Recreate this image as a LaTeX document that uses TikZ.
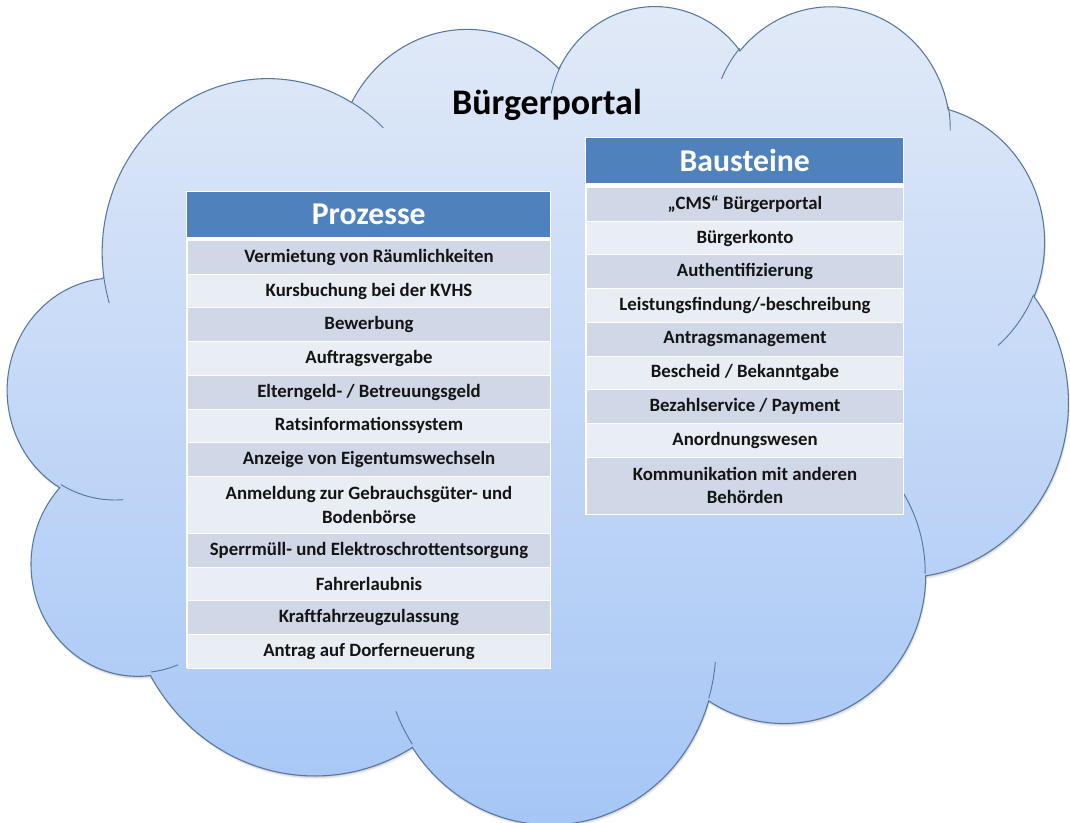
\documentclass[tikz,border=0pt]{standalone}
\usepackage{fontspec}
\setmainfont{Carlito}
\definecolor{cloudtop}{HTML}{E2EAF7}
\definecolor{cloudbot}{HTML}{A4C5F6}
\definecolor{cloudline}{HTML}{56789F}
\definecolor{hdrblue}{HTML}{4F81BD}
\definecolor{rowdark}{HTML}{D0D8E8}
\definecolor{rowlight}{HTML}{E9EDF4}
\definecolor{textdark}{HTML}{141414}
\newcommand\cellfont{\fontsize{14.1pt}{17.6pt}\selectfont\bfseries}
\newcommand\headerfont{\fontsize{23.8pt}{28pt}\selectfont\bfseries}
\newcommand\portalfont{\fontsize{27pt}{32pt}\selectfont\bfseries}
% cloud outline: eleven elliptical lobes, in units of 1/100 of the shape box
\newcommand\cloudoutline{(39.00,143.70)
    arc[start angle=-187.747, end angle=-59.636, x radius=67.53, y radius=91.90]
    arc[start angle=-152.047, end angle=-45.468, x radius=53.33, y radius=72.67]
    arc[start angle=-153.494, end angle=-37.326, x radius=43.65, y radius=59.45]
    arc[start angle=-139.711, end angle=-10.211, x radius=48.57, y radius=65.95]
    arc[start angle=-74.768, end angle=23.207, x radius=53.33, y radius=72.73]
    arc[start angle=-37.520, end angle=81.862, x radius=67.75, y radius=92.20]
    arc[start angle=0.4596, end angle=121.971, x radius=57.85, y radius=78.67]
    arc[start angle=16.845, end angle=146.215, x radius=67.52, y radius=92.15]
    arc[start angle=58.985, end angle=150.193, x radius=77.20, y radius=105.43]
    arc[start angle=-276.694, end angle=-136.905, x radius=43.60, y radius=59.18]
    arc[start angle=-239.652, end angle=-95.887, x radius=43.45, y radius=59.45]
    -- cycle}
\begin{document}
\begin{tikzpicture}[x=0.75pt, y=-0.75pt,
  tcell/.style={anchor=north west, inner sep=0pt, draw=white, line width=0.75pt,
                align=center, text=textdark, font=\cellfont},
  oddrow/.style={tcell, fill=rowdark, minimum height=25.275pt},
  evenrow/.style={tcell, fill=rowlight, minimum height=25.275pt},
  oddtall/.style={tcell, fill=rowdark, minimum height=42.75pt},
  eventall/.style={tcell, fill=rowlight, minimum height=42.75pt},
  hdr/.style={anchor=north west, inner sep=0pt, fill=hdrblue, text=white,
              font=\headerfont, minimum height=33.75pt},
  pcol/.style={minimum width=272.25pt},
  bcol/.style={minimum width=237.75pt},
  inner arc/.style={draw=cloudline, line width=0.7pt}]
\useasboundingbox (0,0) rectangle (1070,823);

% soft shadow below the cloud
\foreach \d/\o in {3/0.05, 2/0.07, 1/0.09}{
  \begin{scope}[xshift=6pt+0.3*\d pt, yshift=-3pt-0.8*\d pt, x=1.840278pt, y=-1.420139pt]
    \fill[black, opacity=\o] \cloudoutline;
  \end{scope}
}

% the cloud itself
\begin{scope}[xshift=6pt, yshift=-3pt, x=1.840278pt, y=-1.420139pt]
  \path[top color=cloudtop, bottom color=cloudbot, draw=cloudline, line width=0.8pt]
    \cloudoutline;
  % short inner strokes where the lobes overlap
  \path[inner arc] (46.93,261.77) arc[start angle=85.547, end angle=120.348, x radius=43.45, y radius=59.45];
  \path[inner arc] (69.28,348.99) arc[start angle=68.236, end angle=83.306, x radius=43.60, y radius=59.18];
  \path[inner arc] (164.78,390.90) arc[start angle=146.215, end angle=158.473, x radius=67.52, y radius=92.15];
  \path[inner arc] (288.27,347.51) arc[start angle=4.738, end angle=16.845, x radius=67.52, y radius=92.15];
  \path[inner arc] (341.29,229.54) arc[start angle=-64.028, end angle=0.4596, x radius=57.85, y radius=78.67];
  \path[inner arc] (417.98,153.54) arc[start angle=23.207, end angle=49.643, x radius=53.33, y radius=72.73];
  \path[inner arc] (383.24,54.26) arc[start angle=-10.211, end angle=0.8208, x radius=48.57, y radius=65.95];
  \path[inner arc] (290.78,39.52) arc[start angle=-156.280, end angle=-139.711, x radius=48.57, y radius=65.95];
  \path[inner arc] (221.41,47.20) arc[start angle=-167.726, end angle=-153.494, x radius=43.65, y radius=59.45];
  \path[inner arc] (140.00,51.92) arc[start angle=-59.636, end angle=-45.748, x radius=67.53, y radius=91.90];
  \path[inner arc] (41.27,157.89) arc[start angle=163.193, end angle=172.253, x radius=67.53, y radius=91.90];
\end{scope}

% title
\node[anchor=base, font=\portalfont, text=black, inner sep=0pt] (title) at (547,115) {Bürgerportal};

% table: Prozesse
\fill[white] (186,191) rectangle (551,668);
\node[hdr, pcol] (pHead) at (187,192) {Prozesse};
\node[oddrow, pcol]  (p1)  at (187,240.0) {Vermietung von Räumlichkeiten};
\node[evenrow, pcol] (p2)  at (187,273.7) {Kursbuchung bei der KVHS};
\node[oddrow, pcol]  (p3)  at (187,307.4) {Bewerbung};
\node[evenrow, pcol] (p4)  at (187,341.1) {Auftragsvergabe};
\node[oddrow, pcol]  (p5)  at (187,374.8) {Elterngeld- / Betreuungsgeld};
\node[evenrow, pcol] (p6)  at (187,408.5) {Ratsinformationssystem};
\node[oddrow, pcol]  (p7)  at (187,442.2) {Anzeige von Eigentumswechseln};
\node[eventall, pcol] (p8) at (187,475.9) {Anmeldung zur Gebrauchsgüter- und\\Bodenbörse};
\node[oddrow, pcol]  (p9)  at (187,532.9) {Sperrmüll- und Elektroschrottentsorgung};
\node[evenrow, pcol] (p10) at (187,566.6) {Fahrerlaubnis};
\node[oddrow, pcol]  (p11) at (187,600.3) {Kraftfahrzeugzulassung};
\node[evenrow, pcol] (p12) at (187,634.0) {Antrag auf Dorferneuerung};

% table: Bausteine
\fill[white] (585,137) rectangle (904,514.6);
\node[hdr, bcol] (bHead) at (586,138) {Bausteine};
\node[oddrow, bcol]  (b1) at (586,187.0) {„CMS“ Bürgerportal};
\node[evenrow, bcol] (b2) at (586,220.7) {Bürgerkonto};
\node[oddrow, bcol]  (b3) at (586,254.4) {Authentifizierung};
\node[evenrow, bcol] (b4) at (586,288.1) {Leistungsfindung/-beschreibung};
\node[oddrow, bcol]  (b5) at (586,321.8) {Antragsmanagement};
\node[evenrow, bcol] (b6) at (586,355.5) {Bescheid / Bekanntgabe};
\node[oddrow, bcol]  (b7) at (586,389.2) {Bezahlservice / Payment};
\node[evenrow, bcol] (b8) at (586,422.9) {Anordnungswesen};
\node[oddtall, bcol] (b9) at (586,456.6) {Kommunikation mit anderen\\Behörden};
\end{tikzpicture}
\end{document}
